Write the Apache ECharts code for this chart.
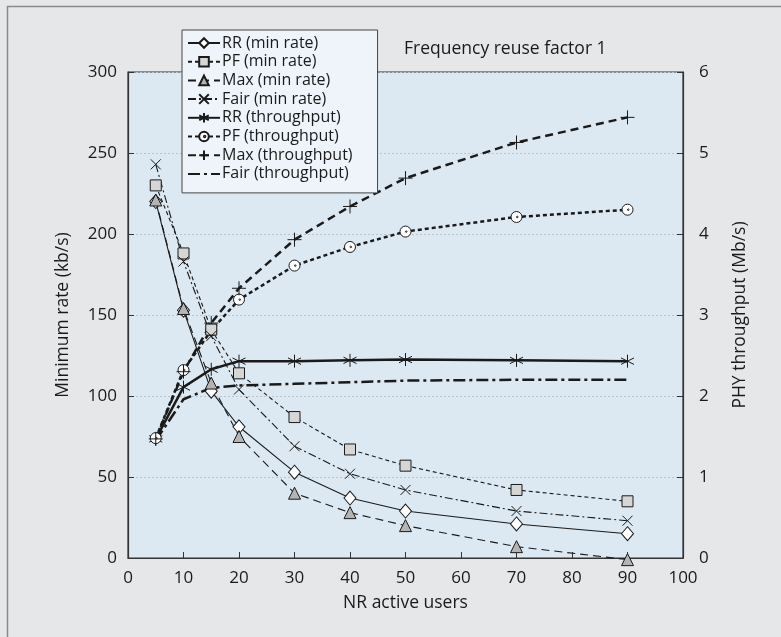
<!DOCTYPE html>
<html>
<head>
<meta charset="utf-8">
<script src="https://cdn.jsdelivr.net/npm/echarts@6/dist/echarts.min.js"></script>
<style>
html,body{margin:0;padding:0;background:#e6e7e8;}
#chart{width:781px;height:637px;}
</style>
</head>
<body>
<div id="chart"></div>
<script>
// ---- data ----
const users    = [5, 10, 15, 20, 30, 40, 50, 70, 90];
const rrMin    = [220, 153, 103, 81, 53, 37, 29, 21, 15];
const pfMin    = [230, 188, 141, 114, 87, 67, 57, 42, 35];
const maxMin   = [221, 154, 108, 75, 40, 28, 20, 7, -1];
const fairMin  = [243, 183, 137, 104, 69, 52, 42, 29, 23];
const rrThr    = [1.47, 2.11, 2.33, 2.43, 2.43, 2.44, 2.45, 2.44, 2.43];
const pfThr    = [1.48, 2.32, 2.81, 3.19, 3.61, 3.84, 4.03, 4.21, 4.30];
const maxThr   = [1.47, 2.30, 2.90, 3.33, 3.93, 4.34, 4.69, 5.13, 5.44];
const fairThr  = [1.45, 1.96, 2.10, 2.13, 2.15, 2.17, 2.19, 2.20, 2.20];
const seriesNames = ['RR (min rate)', 'PF (min rate)', 'Max (min rate)', 'Fair (min rate)',
                     'RR (throughput)', 'PF (throughput)', 'Max (throughput)', 'Fair (throughput)'];
const xTicks = [0, 10, 20, 30, 40, 50, 60, 70, 80, 90, 100];
const chartTitle = 'Frequency reuse factor 1';
const xName = 'NR active users';
const yLeftName = 'Minimum rate (kb/s)';
const yRightName = 'PHY throughput (Mb/s)';

const pairs = arr => users.map((u, i) => [u, arr[i]]);
const FONT = 'Open Sans';
const INK = '#1a1a1a';

const xPath = 'path://M0,0L10,10M10,0L0,10';
const starPath = 'path://M5,0L5,10M0.7,2.5L9.3,7.5M0.7,7.5L9.3,2.5';
const plusPath = 'path://M5,0L5,10M0,5L10,5';
const dotCirclePath = 'path://M10,5A5,5,0,1,1,0,5A5,5,0,1,1,10,5ZM6.4,5A0.7,0.7,0,1,1,5,5A0.7,0.7,0,1,1,6.4,5Z';

function mk(name, data, axis, lw, dash, symbol, size, fill, show) {
  return {
    name: name, type: 'line', yAxisIndex: axis, data: pairs(data),
    symbol: symbol, symbolSize: size, showSymbol: show,
    clip: false, z: axis === 1 ? 3 : 4,
    lineStyle: {color: INK, width: lw, type: dash},
    itemStyle: show ? {color: fill, borderColor: INK, borderWidth: 1}
                    : {color: 'rgba(0,0,0,0)', borderColor: 'rgba(0,0,0,0)', borderWidth: 0},
    emphasis: {disabled: true}
  };
}

const chart = echarts.init(document.getElementById('chart'), null, {renderer: 'canvas'});
chart.setOption({
  animation: false,
  backgroundColor: '#e6e7e8',
  textStyle: {fontFamily: FONT, color: INK},
  title: {
    text: chartTitle, left: 399, top: 35,
    textStyle: {fontFamily: FONT, fontSize: 17.5, fontWeight: 'normal', color: INK}
  },
  graphic: [{
    type: 'rect', left: 5, top: 4, z: -10,
    shape: {x: 0, y: 0, width: 800, height: 700},
    style: {fill: 'none', stroke: '#8a8a8a', lineWidth: 1.5}
  }],
  legend: {
    orient: 'vertical', left: 182, top: 30,
    data: seriesNames,
    backgroundColor: '#eef4fa', borderColor: '#444', borderWidth: 1,
    padding: [5, 25, 11, 5],
    itemWidth: 32, itemHeight: 12, itemGap: 2.7,
    textStyle: {fontFamily: FONT, fontSize: 16, lineHeight: 16, color: INK, padding: [0, 0, 0, -3]}
  },
  grid: {
    left: 128, right: 98, top: 72, bottom: 79,
    show: true, backgroundColor: '#dce9f3', borderColor: '#333', borderWidth: 1.2
  },
  xAxis: {
    type: 'value', min: 0, max: 100, interval: 10,
    name: xName, nameLocation: 'middle', nameGap: 36,
    nameTextStyle: {fontFamily: FONT, fontSize: 17.5, color: INK},
    axisLine: {show: true, lineStyle: {color: '#333', width: 1.2}},
    axisTick: {show: true, inside: true, length: 6, lineStyle: {color: '#333'}},
    axisLabel: {margin: 12, fontFamily: FONT, fontSize: 17, color: INK,
      formatter: v => xTicks.includes(v) ? String(v) : ''},
    splitLine: {show: false}
  },
  yAxis: [{
    type: 'value', min: 0, max: 300, interval: 50, position: 'left',
    name: yLeftName, nameLocation: 'middle', nameGap: 56, nameRotate: 90,
    nameTextStyle: {fontFamily: FONT, fontSize: 17.5, color: INK},
    axisLine: {show: true, lineStyle: {color: '#333', width: 1.2}},
    axisTick: {show: true, inside: true, length: 6, lineStyle: {color: '#333'}},
    axisLabel: {margin: 11, fontFamily: FONT, fontSize: 17, color: INK},
    splitLine: {show: true, lineStyle: {color: '#b9c3cc', type: [2, 2], width: 1}}
  }, {
    type: 'value', min: 0, max: 6, interval: 1, position: 'right',
    name: yRightName, nameLocation: 'middle', nameGap: 48, nameRotate: 90,
    nameTextStyle: {fontFamily: FONT, fontSize: 17.5, color: INK},
    axisLine: {show: true, lineStyle: {color: '#333', width: 1.2}},
    axisTick: {show: true, inside: true, length: 6, lineStyle: {color: '#333'}},
    axisLabel: {margin: 16, fontFamily: FONT, fontSize: 17, color: INK},
    splitLine: {show: false}
  }],
  series: [
    mk(seriesNames[0], rrMin, 0, 1.1, 'solid', 'diamond', [12, 14], '#ffffff', true),
    mk(seriesNames[1], pfMin, 0, 1.1, [4, 3], 'rect', 11, '#d6d6d6', true),
    mk(seriesNames[2], maxMin, 0, 1.1, [8, 5], 'triangle', 12, '#b4b4b4', true),
    mk(seriesNames[3], fairMin, 0, 1.1, [8, 3, 2, 3], xPath, 10, INK, true),
    mk(seriesNames[4], rrThr, 1, 2.5, 'solid', starPath, 13, INK, true),
    mk(seriesNames[5], pfThr, 1, 2.5, [4, 3], dotCirclePath, 11, '#ffffff', true),
    mk(seriesNames[6], maxThr, 1, 2.5, [8, 5], plusPath, 14, INK, true),
    mk(seriesNames[7], fairThr, 1, 2.5, [12, 4, 3, 4], 'circle', 1, INK, false)
  ]
});
</script>
</body>
</html>
